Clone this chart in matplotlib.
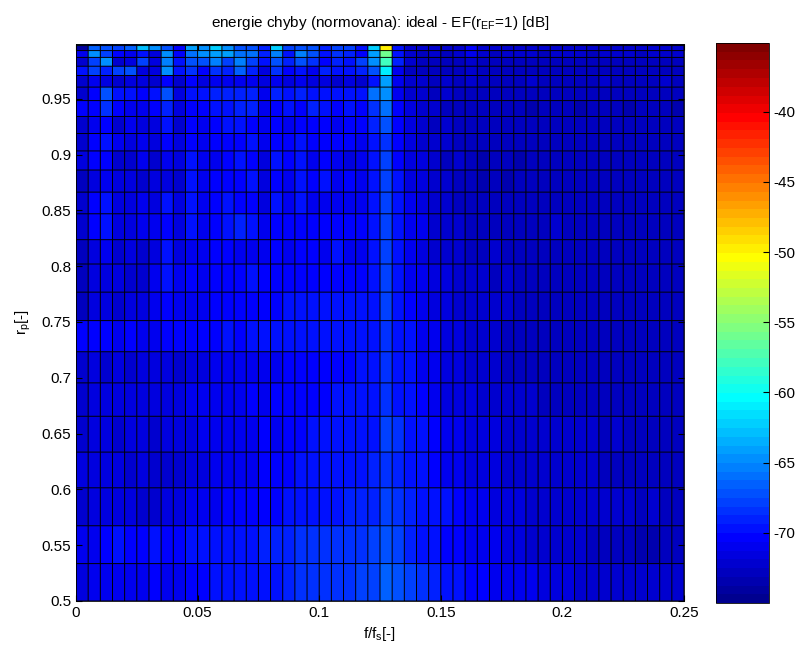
import numpy as np
import matplotlib
matplotlib.use('Agg')
import matplotlib.pyplot as plt
from matplotlib.colors import ListedColormap

plt.rcParams['font.family'] = ['Liberation Sans', 'DejaVu Sans']
plt.rcParams['font.size'] = 10

# frequency grid (cell edges), f/fs
f_edges = np.linspace(0.0, 0.25, 51)
# pole radius grid (cell edges), denser towards 1
rp_edges = [0.5, 0.5335, 0.5674, 0.6014, 0.6334, 0.6655, 0.6954, 0.7233, 0.7512,
            0.7767, 0.8019, 0.8237, 0.8469, 0.8663, 0.8861, 0.9032, 0.9188, 0.9341,
            0.9483, 0.9604, 0.9708, 0.9791, 0.9870, 0.9931, 0.9976, 0.999]

# normalised error energy [dB], one row per rp cell (bottom -> top), 50 f cells each
err_db = np.array([
    [-71.4, -70.8, -71.2, -71.0, -70.9, -71.0, -70.6, -70.9, -70.8, -70.6,
     -70.4, -70.0, -69.8, -70.0, -69.6, -69.8, -69.4, -69.2, -68.6, -68.4,
     -68.6, -68.4, -68.2, -68.0, -67.8, -66.8, -67.4, -68.0, -68.6, -69.0,
     -69.6, -69.6, -70.2, -70.6, -70.8, -71.0, -71.2, -71.2, -71.4, -71.6,
     -71.8, -72.0, -72.2, -72.1, -72.3, -72.4, -72.2, -72.4, -72.5, -72.4],
    [-71.2, -70.9, -70.2, -70.0, -70.6, -70.4, -70.0, -70.6, -70.2, -69.8,
     -70.0, -69.8, -69.6, -69.4, -69.4, -69.2, -69.2, -68.8, -68.4, -68.4,
     -68.2, -68.4, -68.2, -68.2, -68.0, -67.4, -67.8, -69.0, -69.6, -69.6,
     -70.4, -70.6, -71.0, -71.0, -71.2, -71.6, -71.8, -72.0, -72.0, -72.2,
     -72.4, -72.4, -72.6, -72.8, -73.0, -73.0, -73.2, -73.4, -73.1, -72.6],
    [-72.0, -71.6, -71.8, -71.6, -71.8, -72.2, -72.2, -71.8, -71.6, -71.2,
     -71.0, -70.8, -70.6, -70.4, -70.6, -70.4, -70.2, -70.0, -69.8, -69.6,
     -69.4, -69.4, -69.2, -69.0, -69.0, -68.0, -68.4, -69.0, -69.4, -69.8,
     -70.0, -70.6, -71.0, -71.0, -71.4, -71.6, -71.8, -72.0, -72.0, -72.2,
     -72.2, -72.4, -72.4, -72.2, -72.4, -72.4, -72.6, -72.4, -72.6, -72.6],
    [-71.6, -71.4, -71.6, -71.8, -72.0, -71.8, -72.0, -72.0, -72.2, -71.6,
     -71.4, -71.0, -71.0, -70.8, -70.8, -70.6, -70.4, -70.2, -70.0, -69.8,
     -69.8, -69.6, -69.6, -69.4, -69.2, -68.2, -68.8, -69.4, -69.8, -70.4,
     -70.8, -71.2, -71.4, -71.6, -71.8, -72.0, -72.2, -72.2, -72.4, -72.2,
     -72.4, -72.4, -72.2, -72.6, -72.6, -72.8, -72.6, -72.8, -72.6, -72.6],
    [-72.4, -71.8, -71.8, -72.0, -71.8, -71.6, -72.0, -71.8, -71.8, -71.4,
     -71.2, -71.0, -70.8, -71.0, -70.8, -70.6, -70.8, -70.4, -70.2, -70.0,
     -70.0, -70.0, -69.8, -69.6, -69.4, -67.8, -68.6, -69.4, -69.8, -70.2,
     -70.8, -71.2, -71.4, -71.6, -71.8, -72.0, -72.0, -72.2, -72.2, -72.4,
     -72.4, -72.2, -72.4, -72.6, -72.4, -72.6, -72.6, -72.8, -72.6, -72.8],
    [-72.2, -71.6, -71.8, -71.6, -71.4, -71.6, -71.8, -71.6, -71.8, -71.2,
     -71.2, -71.0, -70.8, -70.8, -70.6, -70.8, -70.6, -70.4, -70.4, -70.2,
     -70.2, -70.0, -70.0, -69.8, -69.6, -68.4, -69.4, -70.0, -70.4, -71.0,
     -71.4, -71.6, -71.8, -72.0, -72.0, -72.2, -72.4, -72.4, -72.6, -72.8,
     -72.6, -72.6, -72.6, -72.8, -72.6, -72.6, -72.8, -72.6, -72.8, -72.8],
    [-72.4, -71.8, -72.0, -71.8, -72.2, -71.8, -71.8, -71.6, -72.0, -71.4,
     -71.6, -71.2, -71.0, -71.2, -70.8, -71.0, -71.2, -70.6, -70.4, -70.2,
     -70.2, -70.4, -70.2, -70.0, -69.8, -68.2, -69.4, -70.0, -70.8, -71.0,
     -71.6, -71.8, -72.0, -72.2, -72.4, -72.8, -73.0, -73.0, -72.8, -73.0,
     -72.8, -73.0, -72.8, -73.0, -72.8, -73.0, -72.8, -73.0, -73.0, -73.0],
    [-70.6, -70.4, -70.6, -70.8, -70.6, -70.8, -70.8, -70.6, -70.6, -70.4,
     -70.6, -70.2, -70.0, -70.2, -69.8, -70.0, -69.8, -69.6, -69.8, -69.6,
     -69.8, -69.6, -69.6, -69.4, -69.6, -68.2, -69.4, -70.0, -70.8, -71.2,
     -71.4, -71.6, -72.0, -72.2, -72.4, -72.6, -72.8, -72.8, -73.0, -72.8,
     -72.8, -73.0, -72.8, -73.0, -72.8, -72.8, -73.0, -72.8, -73.0, -73.0],
    [-72.8, -71.4, -71.6, -72.0, -71.6, -71.8, -71.0, -70.6, -71.2, -71.0,
     -70.8, -70.6, -70.4, -70.6, -70.2, -70.4, -70.2, -70.0, -70.0, -69.8,
     -70.0, -69.8, -70.0, -69.6, -69.8, -68.0, -69.6, -70.4, -70.8, -71.4,
     -71.6, -72.0, -72.2, -72.2, -72.4, -72.4, -72.8, -72.6, -72.8, -72.6,
     -73.0, -72.8, -72.8, -73.0, -72.8, -73.0, -73.0, -72.8, -73.0, -73.0],
    [-72.8, -71.4, -71.6, -71.4, -72.2, -72.4, -71.0, -69.8, -71.0, -70.6,
     -70.8, -70.6, -70.4, -70.6, -69.6, -70.6, -70.2, -70.4, -70.2, -70.6,
     -70.6, -70.2, -70.6, -70.2, -69.8, -67.8, -69.6, -70.8, -71.0, -71.8,
     -71.8, -72.2, -72.4, -72.4, -72.6, -72.4, -73.0, -72.8, -72.8, -72.6,
     -73.0, -72.8, -73.0, -72.8, -73.0, -73.0, -72.8, -73.0, -72.8, -73.0],
    [-72.8, -71.4, -71.0, -72.0, -71.6, -72.2, -71.4, -70.0, -71.8, -70.8,
     -71.0, -70.6, -70.4, -70.8, -70.8, -71.2, -70.6, -71.0, -70.6, -70.4,
     -70.8, -69.6, -70.8, -70.8, -69.8, -67.8, -69.8, -71.0, -71.4, -72.0,
     -72.0, -72.4, -73.0, -72.6, -72.4, -72.6, -73.0, -72.8, -72.6, -72.8,
     -72.6, -73.0, -72.8, -72.6, -72.8, -73.0, -72.8, -73.0, -72.8, -73.0],
    [-72.4, -70.2, -69.8, -71.4, -71.4, -71.2, -71.0, -70.6, -71.8, -69.8,
     -70.8, -70.4, -70.0, -69.2, -70.0, -70.8, -70.4, -70.6, -70.4, -70.6,
     -70.4, -70.6, -70.4, -70.6, -69.6, -68.0, -69.8, -71.0, -71.2, -72.0,
     -72.2, -72.4, -72.8, -73.0, -72.6, -73.0, -72.8, -72.6, -72.8, -72.4,
     -72.8, -73.0, -72.6, -73.0, -72.8, -72.6, -72.8, -73.0, -72.8, -72.8],
    [-72.4, -70.4, -70.0, -71.8, -71.4, -71.0, -71.4, -69.6, -71.8, -70.0,
     -70.8, -70.4, -70.0, -70.4, -70.4, -71.8, -70.0, -71.0, -70.0, -70.8,
     -71.0, -71.0, -70.8, -71.0, -69.6, -68.0, -69.8, -71.0, -71.4, -72.0,
     -72.4, -72.6, -73.0, -72.8, -73.0, -72.6, -72.8, -72.8, -72.6, -72.8,
     -72.6, -72.8, -73.0, -72.6, -72.8, -73.0, -72.6, -72.8, -73.0, -72.8],
    [-72.8, -71.4, -71.0, -71.8, -71.4, -72.2, -71.4, -71.4, -72.2, -69.8,
     -70.8, -70.4, -70.4, -70.4, -70.0, -71.8, -70.4, -70.8, -70.0, -70.4,
     -69.6, -70.8, -70.6, -70.8, -69.6, -68.0, -69.6, -71.4, -71.6, -72.2,
     -72.4, -72.8, -73.0, -73.2, -73.0, -73.2, -72.8, -73.0, -73.0, -72.8,
     -73.0, -72.8, -72.8, -73.0, -72.8, -73.0, -72.8, -73.0, -72.8, -73.0],
    [-71.4, -70.4, -70.4, -72.4, -72.0, -71.0, -72.4, -71.0, -71.4, -69.8,
     -71.0, -71.0, -70.4, -70.0, -70.4, -71.8, -70.0, -70.4, -69.6, -71.0,
     -70.4, -70.8, -71.4, -71.0, -69.6, -68.0, -70.4, -71.6, -71.8, -72.4,
     -72.6, -72.4, -73.0, -73.2, -72.8, -73.0, -73.2, -72.8, -73.0, -72.8,
     -73.0, -72.8, -73.0, -72.8, -73.0, -72.8, -72.8, -73.0, -72.8, -73.0],
    [-72.0, -70.4, -70.0, -71.0, -71.4, -71.0, -71.6, -70.4, -71.8, -70.2,
     -70.8, -70.4, -70.6, -70.2, -70.0, -71.2, -70.2, -70.6, -70.0, -70.4,
     -70.6, -70.2, -70.6, -70.8, -69.8, -68.4, -70.4, -71.8, -72.0, -72.4,
     -72.4, -72.6, -73.0, -72.8, -73.0, -72.6, -73.0, -72.8, -73.0, -72.8,
     -72.8, -73.0, -72.8, -73.0, -72.8, -73.0, -72.8, -72.8, -73.0, -72.8],
    [-72.0, -71.0, -70.4, -72.0, -71.0, -71.4, -71.4, -70.0, -72.0, -70.4,
     -71.0, -70.4, -70.0, -70.0, -70.4, -70.8, -70.4, -70.8, -70.2, -70.6,
     -70.4, -70.8, -70.6, -70.4, -69.0, -67.2, -70.4, -71.8, -72.2, -72.6,
     -72.4, -72.6, -72.8, -73.0, -72.8, -73.0, -72.8, -73.0, -72.8, -73.0,
     -73.0, -72.8, -72.8, -73.0, -72.8, -72.8, -73.0, -72.8, -72.8, -73.0],
    [-70.6, -70.2, -68.2, -70.6, -71.0, -71.0, -70.6, -68.8, -71.6, -70.2,
     -70.6, -70.0, -69.6, -69.2, -68.8, -71.0, -70.2, -70.0, -70.2, -69.2,
     -70.0, -70.2, -70.0, -70.2, -68.6, -66.0, -70.6, -71.8, -72.2, -72.4,
     -72.6, -72.8, -73.0, -72.8, -73.0, -72.8, -73.0, -73.2, -73.0, -72.8,
     -73.0, -73.2, -73.0, -72.8, -73.0, -73.2, -73.0, -72.8, -73.0, -73.2],
    [-72.0, -70.6, -67.0, -69.4, -69.4, -70.6, -70.0, -67.2, -71.6, -69.4,
     -69.4, -68.8, -68.8, -68.8, -68.8, -71.0, -68.8, -69.4, -69.2, -69.6,
     -69.4, -69.6, -69.4, -69.6, -66.0, -65.0, -71.0, -72.0, -72.2, -72.6,
     -72.2, -72.6, -72.8, -72.6, -72.8, -73.0, -72.8, -73.0, -72.8, -73.0,
     -72.8, -73.0, -72.8, -73.0, -72.8, -73.0, -72.8, -73.0, -72.8, -73.0],
    [-72.1, -71.1, -71.5, -72.1, -71.5, -71.7, -72.1, -70.1, -72.1, -70.5,
     -71.5, -71.1, -71.1, -70.9, -70.9, -71.5, -70.9, -71.5, -71.1, -71.5,
     -71.5, -71.9, -71.5, -71.9, -69.5, -64.0, -70.7, -72.1, -72.5, -72.7,
     -72.5, -72.7, -72.3, -72.7, -72.9, -72.7, -72.9, -72.5, -72.7, -72.9,
     -72.7, -72.9, -72.7, -72.5, -72.9, -72.7, -72.9, -72.7, -72.5, -72.7],
    [-70.0, -68.0, -69.0, -68.0, -67.0, -71.4, -71.4, -65.0, -70.0, -68.6,
     -70.6, -68.6, -69.0, -66.8, -69.2, -71.4, -68.6, -70.4, -69.6, -71.0,
     -69.0, -70.0, -69.6, -69.0, -67.0, -61.0, -71.0, -72.6, -72.8, -73.0,
     -72.8, -72.6, -72.4, -72.8, -73.0, -72.6, -72.8, -72.6, -72.8, -73.0,
     -72.8, -73.0, -72.8, -72.6, -72.8, -73.0, -72.8, -72.6, -72.8, -73.0],
    [-72.0, -68.0, -64.5, -72.0, -71.4, -68.0, -71.4, -65.6, -70.0, -67.0,
     -67.0, -65.6, -67.6, -65.6, -67.6, -69.6, -67.0, -69.0, -67.0, -68.6,
     -70.6, -69.0, -70.0, -68.0, -65.0, -58.0, -69.0, -72.4, -72.8, -73.0,
     -72.6, -72.8, -72.4, -72.6, -73.0, -72.8, -72.6, -72.8, -73.0, -72.6,
     -72.8, -72.6, -72.8, -73.0, -72.6, -72.8, -72.8, -72.6, -72.8, -72.6],
    [-71.0, -65.0, -68.0, -70.6, -71.0, -70.0, -71.4, -65.0, -70.6, -66.0,
     -64.5, -64.0, -64.0, -66.0, -66.0, -69.0, -65.6, -69.6, -65.6, -67.0,
     -70.0, -68.6, -69.0, -70.6, -64.0, -56.0, -69.4, -72.2, -72.6, -72.4,
     -72.6, -72.4, -71.0, -72.4, -72.6, -72.4, -72.2, -72.4, -72.6, -72.4,
     -72.2, -72.4, -72.6, -72.4, -72.2, -72.4, -72.6, -72.4, -72.2, -72.4],
    [-74.0, -66.5, -67.0, -68.0, -66.5, -63.0, -65.0, -67.0, -70.6, -64.0,
     -65.0, -62.5, -65.0, -67.0, -67.0, -69.0, -62.5, -68.0, -67.0, -67.0,
     -69.0, -68.0, -68.0, -69.5, -62.0, -50.0, -70.0, -72.2, -72.4, -72.2,
     -72.4, -72.2, -70.2, -72.2, -72.4, -72.2, -72.4, -72.2, -72.0, -72.2,
     -72.4, -72.2, -72.0, -72.2, -72.4, -72.2, -72.0, -72.2, -72.4, -72.2],
    [-66.0, -68.0, -67.5, -66.5, -68.5, -61.0, -67.0, -66.0, -70.6, -61.0,
     -66.0, -61.0, -67.5, -67.0, -66.5, -68.5, -57.0, -69.0, -67.0, -68.0,
     -68.5, -68.5, -69.0, -69.5, -63.0, -45.0, -70.0, -71.8, -71.6, -71.8,
     -71.6, -71.8, -65.0, -71.6, -71.8, -71.6, -71.8, -71.6, -71.8, -71.6,
     -71.8, -71.6, -71.8, -71.6, -71.8, -71.6, -71.8, -71.6, -71.8, -71.6],
])

c_min, c_max = -75.0, -35.1

x_ticks = [0, 0.05, 0.1, 0.15, 0.2, 0.25]
x_tick_labels = ['0', '0.05', '0.1', '0.15', '0.2', '0.25']
y_ticks = [0.5, 0.55, 0.6, 0.65, 0.7, 0.75, 0.8, 0.85, 0.9, 0.95]
y_tick_labels = ['0.5', '0.55', '0.6', '0.65', '0.7', '0.75', '0.8', '0.85', '0.9', '0.95']
cb_ticks = [-70, -65, -60, -55, -50, -45, -40]


def matlab_jet(m=64):
    # same piecewise-linear ramps as MATLAB's jet(m)
    n = int(np.ceil(m / 4))
    u = np.concatenate([np.arange(1, n + 1) / n, np.ones(n - 1), np.arange(n, 0, -1) / n])
    g = int(np.ceil(n / 2)) - (m % 4 == 1) + np.arange(1, len(u) + 1)
    r = g + n
    b = g - n
    J = np.zeros((m, 3))
    J[r[r <= m] - 1, 0] = u[r <= m]
    J[g[g <= m] - 1, 1] = u[g <= m]
    J[b[b >= 1] - 1, 2] = u[b >= 1]
    return ListedColormap(J)


fig = plt.figure(figsize=(7.95, 6.48), dpi=100)
ax = fig.add_axes([76 / 795, 1 - 601 / 648, 608 / 795, 557 / 648])

mesh = ax.pcolormesh(f_edges, rp_edges, err_db, cmap=matlab_jet(64),
                     vmin=c_min, vmax=c_max, edgecolors='none')
# cell borders drawn on top so every one of them stays visible
ax.vlines(f_edges, rp_edges[0], rp_edges[-1], colors='k', linewidth=0.7,
          antialiased=True, snap=False)
ax.hlines(rp_edges, f_edges[0], f_edges[-1], colors='k', linewidth=0.7,
          antialiased=True, snap=False)

ax.set_xlim(0, 0.25)
ax.set_ylim(0.5, 0.999)
ax.set_xticks(x_ticks)
ax.set_xticklabels(x_tick_labels)
ax.set_yticks(y_ticks)
ax.set_yticklabels(y_tick_labels)
ax.tick_params(direction='in', length=4, top=True, right=True, labelsize=11)
for s in ax.spines.values():
    s.set_linewidth(0.6)

ax.set_xlabel(r'f/$\mathregular{f_s}$[-]', fontsize=11, labelpad=4)
ax.set_ylabel(r'$\mathregular{r_p}$[-]', fontsize=11, labelpad=6)
ax.set_title(r'energie chyby (normovana): ideal - EF($\mathregular{r_{EF}}$=1) [dB]',
             fontsize=11, pad=12)

cax = fig.add_axes([716 / 795, 1 - 603 / 648, 53 / 795, 560 / 648])
cb = fig.colorbar(mesh, cax=cax)
cb.set_ticks(cb_ticks)
cb.set_ticklabels([str(t) for t in cb_ticks])
cb.ax.tick_params(direction='in', length=4, labelsize=11)
cb.outline.set_linewidth(0.6)

fig.savefig('out.png', dpi=100)
